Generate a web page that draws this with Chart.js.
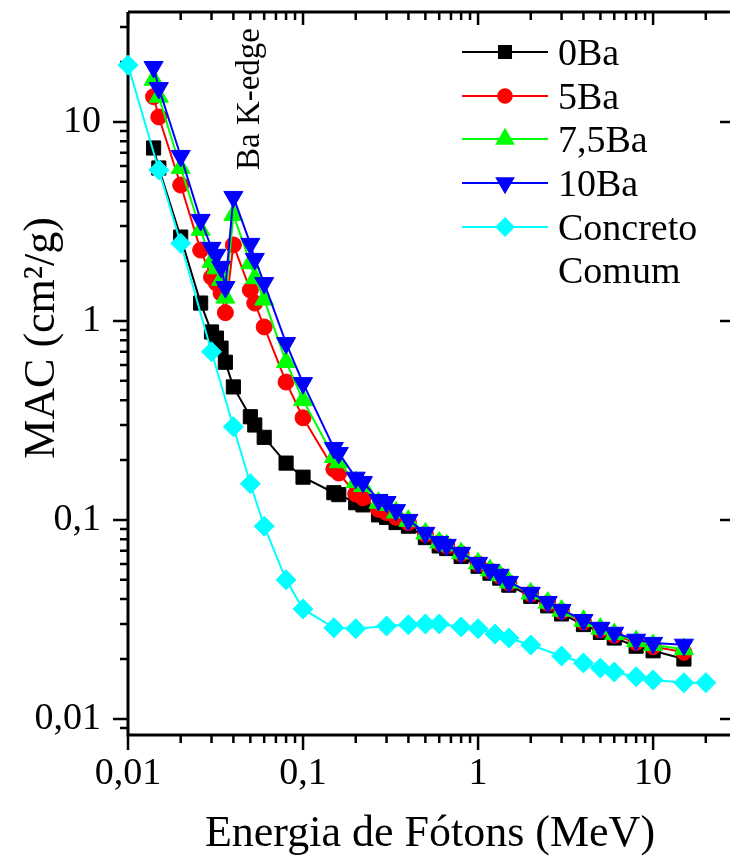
<!DOCTYPE html>
<html>
<head>
<meta charset="utf-8">
<script src="https://cdn.jsdelivr.net/npm/chart.js@4.4.0/dist/chart.umd.min.js"></script>
<style>
html, body { margin: 0; padding: 0; background: #fff; }
</style>
</head>
<body>
<canvas id="macChart" width="730" height="859"></canvas>
<script>
// energias (MeV) das amostras com bário e do concreto comum
var energiasBa = [0.014, 0.015, 0.02, 0.026, 0.03, 0.032, 0.034, 0.036, 0.04, 0.05, 0.053, 0.06, 0.08, 0.1,
    0.15, 0.16, 0.2, 0.22, 0.27, 0.3, 0.34, 0.4, 0.5, 0.6, 0.662, 0.8, 1, 1.17, 1.33, 1.5,
    2, 2.5, 3, 4, 5, 6, 8, 10, 15];
var energiasConcreto = [0.01, 0.015, 0.02, 0.03, 0.04, 0.05, 0.06, 0.08, 0.1, 0.15, 0.2, 0.3, 0.4, 0.5,
    0.6, 0.8, 1, 1.25, 1.5, 2, 3, 4, 5, 6, 8, 10, 15, 20];

// MAC (cm2/g)
var mac0Ba = [7.40, 5.87, 2.64, 1.23, 0.88, 0.82, 0.73, 0.62, 0.466, 0.33, 0.30, 0.26, 0.193, 0.164,
    0.137, 0.134, 0.122, 0.119, 0.106, 0.103, 0.097, 0.093, 0.0815, 0.0740, 0.0718, 0.0655, 0.0585, 0.0540, 0.0510, 0.0470,
    0.0413, 0.0370, 0.0337, 0.0298, 0.0272, 0.0255, 0.0232, 0.0220, 0.0200];
var mac5Ba = [13.4, 10.6, 4.82, 2.27, 1.66, 1.55, 1.38, 1.10, 2.41, 1.43, 1.23, 0.933, 0.493, 0.326,
    0.180, 0.172, 0.135, 0.129, 0.113, 0.109, 0.103, 0.097, 0.0848, 0.0765, 0.0740, 0.0676, 0.0602, 0.0555, 0.0524, 0.0482,
    0.0424, 0.0381, 0.0347, 0.0307, 0.0280, 0.0263, 0.0242, 0.0231, 0.0216];
var mac75Ba = [16.3, 13.4, 5.87, 2.87, 1.98, 1.84, 1.61, 1.31, 3.41, 1.95, 1.64, 1.28, 0.622, 0.40,
    0.207, 0.195, 0.155, 0.148, 0.122, 0.119, 0.109, 0.099, 0.0855, 0.0770, 0.0745, 0.0680, 0.0605, 0.0558, 0.0527, 0.0485,
    0.0427, 0.0384, 0.0350, 0.0311, 0.0284, 0.0267, 0.0246, 0.0235, 0.0224];
var mac10Ba = [18.9, 14.8, 6.75, 3.22, 2.33, 2.15, 1.87, 1.48, 4.20, 2.44, 2.05, 1.55, 0.774, 0.487,
    0.230, 0.217, 0.163, 0.155, 0.126, 0.123, 0.112, 0.100, 0.0861, 0.0775, 0.0749, 0.0683, 0.0608, 0.0561, 0.0530, 0.0488,
    0.0430, 0.0387, 0.0353, 0.0314, 0.0287, 0.0271, 0.0250, 0.0241, 0.0236];
var macConcreto = [19.3, 5.74, 2.46, 0.70, 0.294, 0.152, 0.093, 0.050, 0.0357, 0.0287, 0.0284, 0.0293, 0.0297, 0.0300,
    0.0300, 0.0290, 0.0284, 0.0267, 0.0255, 0.0235, 0.0207, 0.0191, 0.0180, 0.0172, 0.0163, 0.0157, 0.0152, 0.0152];

// ticks
var xTicks = [0.01, 0.1, 1, 10];
var xTickLabels = ['0,01', '0,1', '1', '10'];
var yTicks = [0.01, 0.1, 1, 10];
var yTickLabels = ['0,01', '0,1', '1', '10'];

var serif = '"Liberation Serif", "Times New Roman", serif';

function pts(xs, ys) {
    return xs.map(function (x, i) { return { x: x, y: ys[i] }; });
}

function serie(label, xs, ys, color, style, radius, rot, order) {
    return {
        label: label,
        data: pts(xs, ys),
        borderColor: color,
        backgroundColor: color,
        pointBackgroundColor: color,
        pointBorderColor: color,
        borderWidth: 2,
        pointBorderWidth: 1,
        pointStyle: style,
        pointRadius: radius,
        pointRotation: rot,
        tension: 0,
        clip: false,
        order: order
    };
}

// todas as divisoes da escala log (maiores e menores)
function logTicks(min, max) {
    var out = [];
    for (var e = Math.floor(Math.log10(min)); e <= Math.ceil(Math.log10(max)); e++) {
        for (var k = 1; k <= 9; k++) {
            var v = Number((k * Math.pow(10, e)).toPrecision(6));
            if (v >= min * 0.999 && v <= max * 1.001) out.push({ v: v, major: k === 1 });
        }
    }
    return out;
}

var framePlugin = {
    id: 'frame',
    beforeDatasetsDraw: function (chart) {
        var c = chart.ctx, a = chart.chartArea, sx = chart.scales.x, sy = chart.scales.y;
        c.save();
        c.strokeStyle = '#000';
        c.lineWidth = 3;
        c.beginPath();
        c.moveTo(a.left, a.top); c.lineTo(a.left, a.bottom); c.lineTo(a.right, a.bottom);
        c.moveTo(a.left, a.top); c.lineTo(a.right, a.top);
        c.stroke();
        c.lineWidth = 2.5;
        c.beginPath();
        logTicks(sx.min, sx.max).forEach(function (t) {
            var px = sx.getPixelForValue(t.v);
            var L = t.major ? 15 : 8;
            c.moveTo(px, a.bottom); c.lineTo(px, a.bottom + L);
            c.moveTo(px, a.top); c.lineTo(px, a.top + (t.major ? 13 : 8));
        });
        logTicks(sy.min, sy.max).forEach(function (t) {
            var py = sy.getPixelForValue(t.v);
            c.moveTo(a.left, py); c.lineTo(a.left - (t.major ? 15 : 8), py);
            if (t.major) { c.moveTo(a.right, py); c.lineTo(a.right - 10, py); }
        });
        c.stroke();
        c.restore();
    },
    afterDraw: function (chart) {
        var c = chart.ctx;
        c.save();
        c.fillStyle = '#000';

        // titulo do eixo y
        c.font = '44px ' + serif;
        c.textAlign = 'center';
        c.textBaseline = 'alphabetic';
        c.save();
        c.translate(54, 338);
        c.rotate(-Math.PI / 2);
        c.fillText('MAC (cm\u00B2/g)', 0, 0);
        c.restore();

        // titulo do eixo x
        c.fillText('Energia de F\u00F3tons (MeV)', 430, 846);

        // anotacao da borda K
        c.font = '33px ' + serif;
        c.save();
        c.translate(259, 99);
        c.rotate(-Math.PI / 2);
        c.fillText('Ba K-edge', 0, 0);
        c.restore();

        // legenda
        var rows = [52, 96, 139, 183, 227];
        var byLabel = {};
        chart.data.datasets.forEach(function (d) { byLabel[d.label] = d; });
        var ordem = ['0Ba', '5Ba', '7,5Ba', '10Ba', 'Concreto Comum'];
        c.font = '38px ' + serif;
        c.textAlign = 'left';
        c.textBaseline = 'middle';
        ordem.forEach(function (lab, i) {
            var d = byLabel[lab];
            var y = rows[i];
            c.strokeStyle = d.borderColor;
            c.lineWidth = 2;
            c.beginPath();
            c.moveTo(462, y); c.lineTo(548, y);
            c.stroke();
            c.fillStyle = d.borderColor;
            Chart.helpers.drawPoint(c, {
                pointStyle: d.pointStyle,
                radius: d.pointRadius * 0.85,
                rotation: d.pointRotation,
                borderWidth: 1
            }, 505, y);
            c.fillStyle = '#000';
            var parts = lab === 'Concreto Comum' ? ['Concreto', 'Comum'] : [lab];
            parts.forEach(function (p, j) { c.fillText(p, 558, y + 3 + j * 43); });
        });
        c.restore();
    }
};

var ctx = document.getElementById('macChart').getContext('2d');
var macChart = new Chart(ctx, {
    type: 'line',
    data: {
        datasets: [
            serie('0Ba', energiasBa, mac0Ba, '#000000', 'rect', 10, 0, 4),
            serie('5Ba', energiasBa, mac5Ba, '#ff0000', 'circle', 8, 0, 3),
            serie('7,5Ba', energiasBa, mac75Ba, '#00ff00', 'triangle', 11, 0, 2),
            serie('10Ba', energiasBa, mac10Ba, '#0000ff', 'triangle', 11, 180, 1),
            serie('Concreto Comum', energiasConcreto, macConcreto, '#00ffff', 'rectRot', 10, 0, 0)
        ]
    },
    options: {
        responsive: false,
        animation: false,
        layout: { autoPadding: false, padding: { top: 12, right: 0, left: 0, bottom: 0 } },
        plugins: { legend: { display: false }, tooltip: { enabled: false } },
        scales: {
            x: {
                type: 'logarithmic',
                min: 0.01,
                max: 27.5,
                grid: { display: false, drawTicks: false },
                border: { display: false },
                afterBuildTicks: function (s) { s.ticks = xTicks.map(function (v) { return { value: v }; }); },
                afterFit: function (s) {
                    s.height = 124;
                    s.paddingLeft = 0; s.paddingRight = 0; s.paddingTop = 0; s.paddingBottom = 0;
                },
                ticks: {
                    autoSkip: false,
                    maxRotation: 0,
                    padding: 16,
                    color: '#000',
                    font: { family: serif, size: 38 },
                    callback: function (v) { var i = xTicks.indexOf(v); return i >= 0 ? xTickLabels[i] : ''; }
                }
            },
            y: {
                type: 'logarithmic',
                min: 0.0083,
                max: 35.7,
                grid: { display: false, drawTicks: false },
                border: { display: false },
                afterBuildTicks: function (s) { s.ticks = yTicks.map(function (v) { return { value: v }; }); },
                afterFit: function (s) {
                    s.width = 128;
                    s.paddingLeft = 0; s.paddingRight = 0; s.paddingTop = 0; s.paddingBottom = 0;
                },
                ticks: {
                    autoSkip: false,
                    padding: 27,
                    color: '#000',
                    font: { family: serif, size: 38 },
                    callback: function (v) { var i = yTicks.indexOf(v); return i >= 0 ? yTickLabels[i] : ''; }
                }
            }
        }
    },
    plugins: [framePlugin]
});
</script>
</body>
</html>
